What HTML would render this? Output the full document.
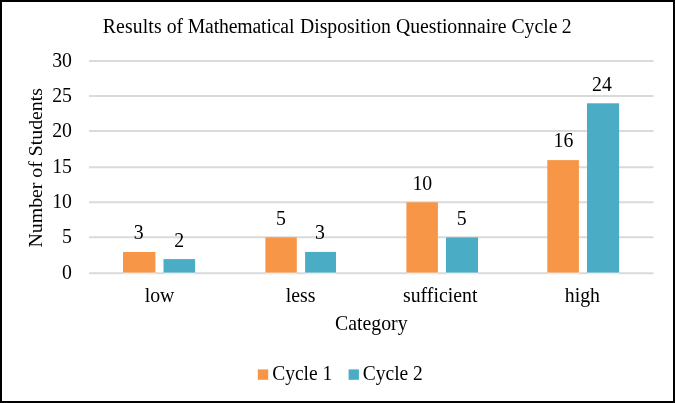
<!DOCTYPE html>
<html>
<head>
<meta charset="utf-8">
<title>Results of Mathematical Disposition Questionnaire Cycle 2</title>
<style>
  html, body { margin: 0; padding: 0; background: #ffffff; }
  body { width: 675px; height: 403px; overflow: hidden; position: relative; }
  svg { position: absolute; left: 0; top: 0; display: block; will-change: transform; }
  text { font-family: "Liberation Serif", serif; fill: #000000; white-space: pre; }
</style>
</head>
<body>
<svg width="675" height="403" viewBox="0 0 675 403">
  <rect x="0" y="0" width="675" height="403" fill="#ffffff"/>
  <rect x="1" y="1" width="673" height="401" fill="none" stroke="#000000" stroke-width="2"/>
  <g stroke="#dadada" stroke-width="2">
    <line x1="89" x2="653.5" y1="61.00" y2="61.00"/>
    <line x1="89" x2="653.5" y1="96.00" y2="96.00"/>
    <line x1="89" x2="653.5" y1="131.05" y2="131.05"/>
    <line x1="89" x2="653.5" y1="167.15" y2="167.15"/>
    <line x1="89" x2="653.5" y1="202.20" y2="202.20"/>
    <line x1="89" x2="653.5" y1="237.20" y2="237.20"/>
  </g>
  <line x1="89" x2="653.5" y1="273.25" y2="273.25" stroke="#dadada" stroke-width="2"/>
  <rect x="123.0" y="252.00" width="32.4" height="20.70" fill="#f79646"/>
  <rect x="123.0" y="272.7" width="32.4" height="1.5" fill="#ffffff" fill-opacity="0.5"/>
  <rect x="163.5" y="259.10" width="31.6" height="13.60" fill="#4bacc6"/>
  <rect x="163.5" y="272.7" width="31.6" height="1.5" fill="#ffffff" fill-opacity="0.5"/>
  <rect x="265.4" y="237.30" width="31.4" height="35.40" fill="#f79646"/>
  <rect x="265.4" y="272.7" width="31.4" height="1.5" fill="#ffffff" fill-opacity="0.5"/>
  <rect x="305.1" y="251.90" width="30.9" height="20.80" fill="#4bacc6"/>
  <rect x="305.1" y="272.7" width="30.9" height="1.5" fill="#ffffff" fill-opacity="0.5"/>
  <rect x="406.4" y="202.30" width="31.5" height="70.40" fill="#f79646"/>
  <rect x="406.4" y="272.7" width="31.5" height="1.5" fill="#ffffff" fill-opacity="0.5"/>
  <rect x="446.0" y="237.40" width="32.0" height="35.30" fill="#4bacc6"/>
  <rect x="446.0" y="272.7" width="32.0" height="1.5" fill="#ffffff" fill-opacity="0.5"/>
  <rect x="547.3" y="160.10" width="31.6" height="112.60" fill="#f79646"/>
  <rect x="547.3" y="272.7" width="31.6" height="1.5" fill="#ffffff" fill-opacity="0.5"/>
  <rect x="587.0" y="103.30" width="32.1" height="169.40" fill="#4bacc6"/>
  <rect x="587.0" y="272.7" width="32.1" height="1.5" fill="#ffffff" fill-opacity="0.5"/>
  <rect x="257.8" y="369.4" width="10.4" height="10.4" fill="#f79646"/>
  <rect x="348.6" y="369.4" width="10.3" height="10.4" fill="#4bacc6"/>
  <text transform="translate(102.80,33.00) scale(1,1.04)" font-size="19.72" text-anchor="start"><tspan letter-spacing="0.13">Results</tspan> of <tspan dx="-0.4" letter-spacing="-0.14">Mathematical</tspan><tspan dx="0.7"> Disposition</tspan><tspan dx="0.1"> Questionnaire</tspan> Cycle<tspan dx="-0.6"> 2</tspan></text>
  <text transform="translate(72.00,67.00) scale(1,1.07)" font-size="19.8" text-anchor="end">30</text>
  <text transform="translate(72.00,102.00) scale(1,1.07)" font-size="19.8" text-anchor="end">25</text>
  <text transform="translate(72.00,137.00) scale(1,1.07)" font-size="19.8" text-anchor="end">20</text>
  <text transform="translate(72.00,173.00) scale(1,1.07)" font-size="19.8" text-anchor="end">15</text>
  <text transform="translate(72.00,208.00) scale(1,1.07)" font-size="19.8" text-anchor="end">10</text>
  <text transform="translate(72.00,243.00) scale(1,1.07)" font-size="19.8" text-anchor="end">5</text>
  <text transform="translate(72.00,279.00) scale(1,1.07)" font-size="19.8" text-anchor="end">0</text>
  <text transform="translate(138.60,239.00) scale(1,1.05)" font-size="19.8" text-anchor="middle">3</text>
  <text transform="translate(179.30,246.50) scale(1,1.05)" font-size="19.8" text-anchor="middle">2</text>
  <text transform="translate(281.00,225.00) scale(1,1.05)" font-size="19.8" text-anchor="middle">5</text>
  <text transform="translate(320.00,239.00) scale(1,1.05)" font-size="19.8" text-anchor="middle">3</text>
  <text transform="translate(422.30,190.00) scale(1,1.05)" font-size="19.8" text-anchor="middle">10</text>
  <text transform="translate(461.60,225.00) scale(1,1.05)" font-size="19.8" text-anchor="middle">5</text>
  <text transform="translate(563.50,147.00) scale(1,1.05)" font-size="19.8" text-anchor="middle">16</text>
  <text transform="translate(601.90,91.00) scale(1,1.05)" font-size="19.8" text-anchor="middle">24</text>
  <text transform="translate(159.50,302.00) scale(1,1.07)" font-size="19.8" text-anchor="middle">low</text>
  <text transform="translate(300.60,302.00) scale(1,1.07)" font-size="19.8" text-anchor="middle">less</text>
  <text transform="translate(440.20,302.00) scale(1,1.07)" font-size="19.8" text-anchor="middle">sufficient</text>
  <text transform="translate(582.40,302.00) scale(1,1.07)" font-size="19.8" text-anchor="middle">high</text>
  <text transform="translate(371.30,330.00) scale(1,1.07)" font-size="19.8" text-anchor="middle">Category</text>
  <text transform="translate(42.40,167.75) rotate(-90) scale(1,1.0)" font-size="19.8" text-anchor="middle">Number of Students</text>
  <text transform="translate(272.20,380.00) scale(1,1.035)" font-size="19.5" text-anchor="start">Cycle 1</text>
  <text transform="translate(362.80,380.00) scale(1,1.035)" font-size="19.5" text-anchor="start">Cycle 2</text>
</svg>
</body>
</html>
